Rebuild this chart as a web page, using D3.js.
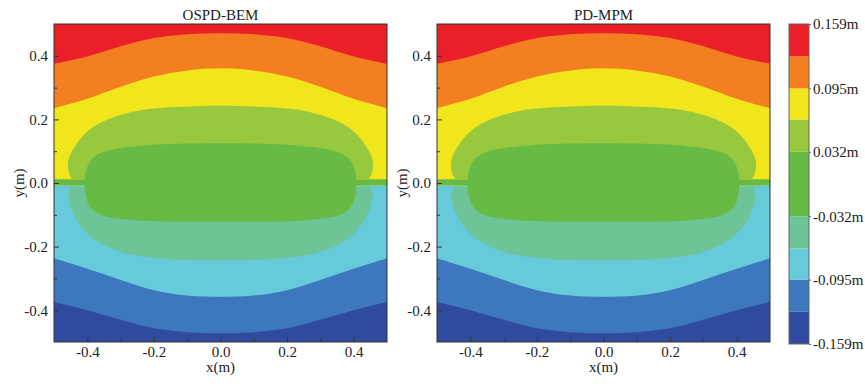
<!DOCTYPE html>
<html>
<head>
<meta charset="utf-8">
<script src="https://cdn.jsdelivr.net/npm/d3@7"></script>
<style>
  body { margin: 0; background: #fff; }
  text { font-family: "Liberation Serif", "DejaVu Serif", serif; fill: #222; }
</style>
</head>
<body>
<div id="chart"></div>
<script>
// ---- data ----
const titles = ["OSPD-BEM", "PD-MPM"];
const levels = [-0.159, -0.127, -0.095, -0.064, -0.032, 0, 0.032, 0.064, 0.095, 0.127, 0.159];
const bandColors = ["#2f4a9e", "#3d77be", "#66cadb", "#6cc497", "#67bb45",
                    "#67bb45", "#98c83e", "#f1e61b", "#f37f21", "#ea1f27"];
const xTicks = [-0.4, -0.2, 0, 0.2, 0.4];
const xMinor = [-0.3, -0.1, 0.1, 0.3];
const yTicks = [-0.4, -0.2, 0, 0.2, 0.4];
const yMinor = [-0.3, -0.1, 0.1, 0.3];
const barTicks = [-0.159, -0.095, -0.032, 0.032, 0.095, 0.159];
const barLabels = ["-0.159m", "-0.095m", "-0.032m", "0.032m", "0.095m", "0.159m"];

// isolines, [x(m), y(m)]
const iso127 = [[-0.5,0.375],[-0.4,0.398],[-0.3,0.43],[-0.2,0.456],[-0.1,0.468],[0,0.471],
                [0.1,0.468],[0.2,0.456],[0.3,0.43],[0.4,0.398],[0.5,0.375]];
const iso095 = [[-0.5,0.235],[-0.4,0.265],[-0.3,0.303],[-0.2,0.335],[-0.1,0.354],[0,0.361],
                [0.1,0.354],[0.2,0.335],[0.3,0.303],[0.4,0.265],[0.5,0.235]];
const iso064 = [[-0.446,0.012],[-0.456,0.035],[-0.457,0.07],[-0.443,0.105],[-0.41,0.152],[-0.36,0.19],
                [-0.26,0.225],[-0.15,0.238],[0,0.243],[0.15,0.238],[0.26,0.225],[0.36,0.19],
                [0.41,0.152],[0.443,0.105],[0.457,0.07],[0.456,0.035],[0.446,0.012]];
const iso032 = [[-0.408,0.005],[-0.406,0.03],[-0.392,0.067],[-0.36,0.094],[-0.26,0.115],[0,0.125],
                [0.26,0.115],[0.36,0.094],[0.392,0.067],[0.406,0.03],[0.408,0.005]];
const isoM032 = [[0.408,-0.005],[0.406,-0.032],[0.392,-0.075],[0.36,-0.1],[0.26,-0.117],[0,-0.122],
                 [-0.26,-0.117],[-0.36,-0.1],[-0.392,-0.075],[-0.406,-0.032],[-0.408,-0.005]];
const isoM064 = [[-0.448,-0.012],[-0.457,-0.043],[-0.443,-0.095],[-0.41,-0.148],[-0.36,-0.19],
                 [-0.26,-0.227],[0,-0.243],[0.26,-0.227],[0.36,-0.19],[0.41,-0.148],
                 [0.443,-0.095],[0.457,-0.043],[0.448,-0.012]];
const isoM095 = [[-0.5,-0.237],[-0.4,-0.27],[-0.3,-0.305],[-0.2,-0.337],[-0.1,-0.354],[0,-0.358],
                 [0.1,-0.354],[0.2,-0.337],[0.3,-0.305],[0.4,-0.27],[0.5,-0.237]];
const isoM127 = [[-0.5,-0.374],[-0.4,-0.4],[-0.3,-0.43],[-0.2,-0.457],[-0.1,-0.469],[0,-0.473],
                 [0.1,-0.469],[0.2,-0.457],[0.3,-0.43],[0.4,-0.4],[0.5,-0.374]];
const crackBand = [-0.008, 0.012];

// ---- layout ----
const W = 865, H = 384;
const panelLeft = [54, 437], pw = 333, plotTop = 24, ph = 318;
const serif = "Liberation Serif, DejaVu Serif, serif";
const fmt = d => d3.format(".1f")(d).replace("\u2212", "-");

const svg = d3.select("#chart").append("svg").attr("width", W).attr("height", H);

panelLeft.forEach((left, pi) => {
  const x = d3.scaleLinear().domain([-0.5, 0.5]).range([0, pw]);
  const y = d3.scaleLinear().domain([-0.5, 0.5]).range([ph, 0]);
  const g = svg.append("g").attr("transform", "translate(" + left + "," + plotTop + ")");

  g.append("clipPath").attr("id", "clip" + pi)
    .append("rect").attr("width", pw).attr("height", ph);

  const line = d3.line().x(d => x(d[0])).y(d => y(d[1])).curve(d3.curveCatmullRom.alpha(0.5));
  const closed = d3.line().x(d => x(d[0])).y(d => y(d[1])).curve(d3.curveCatmullRomClosed.alpha(0.5));
  const below = pts => line(pts) + "L" + x(0.5) + "," + y(-0.5) + "L" + x(-0.5) + "," + y(-0.5) + "Z";
  const rect = (y0, y1) => "M" + x(-0.5) + "," + y(y1) + "H" + x(0.5) + "V" + y(y0) + "H" + x(-0.5) + "Z";

  // painted back to front
  const layers = [
    [9, rect(-0.5, 0.5)],
    [8, below(iso127)],
    [7, below(iso095)],
    [2, rect(-0.5, crackBand[0])],
    [1, below(isoM095)],
    [0, below(isoM127)],
    [4, rect(crackBand[0], crackBand[1])],
    [6, line(iso064) + "Z"],
    [3, line(isoM064) + "Z"],
    [4, closed(iso032.concat(isoM032))]
  ];

  const field = g.append("g").attr("clip-path", "url(#clip" + pi + ")");
  field.selectAll("path").data(layers).join("path")
    .attr("d", d => d[1])
    .attr("fill", d => bandColors[d[0]]);

  g.append("rect").attr("width", pw).attr("height", ph)
    .attr("fill", "none").attr("stroke", "#333").attr("stroke-width", 1);

  // axes, ticks inside
  g.append("g").attr("transform", "translate(0," + ph + ")")
    .call(d3.axisBottom(x).tickValues(xTicks).tickFormat(fmt).tickSize(-5).tickPadding(4));
  g.append("g").attr("transform", "translate(0," + ph + ")")
    .call(d3.axisBottom(x).tickValues(xMinor).tickFormat("").tickSize(-3));
  g.append("g")
    .call(d3.axisLeft(y).tickValues(yTicks).tickFormat(fmt).tickSize(-5).tickPadding(6));
  g.append("g")
    .call(d3.axisLeft(y).tickValues(yMinor).tickFormat("").tickSize(-3));

  g.selectAll(".domain").remove();
  g.selectAll(".tick line").attr("stroke", "#333");
  g.selectAll(".tick text").attr("font-size", 15).attr("font-family", serif).attr("fill", "#222");

  g.append("text").attr("x", pw / 2).attr("y", -4).attr("text-anchor", "middle")
    .attr("font-size", 15).text(titles[pi]);
  g.append("text").attr("x", pw / 2).attr("y", ph + 30).attr("text-anchor", "middle")
    .attr("font-size", 15).text("x(m)");
  g.append("text").attr("transform", "translate(" + (-30) + "," + (ph / 2) + ") rotate(-90)")
    .attr("text-anchor", "middle").attr("font-size", 15).text("y(m)");
});

// ---- colour bar ----
const cb = svg.append("g").attr("transform", "translate(789," + plotTop + ")");
const cbW = 20, cbH = 320;
const cy = d3.scaleLinear().domain([levels[0], levels[levels.length - 1]]).range([cbH, 0]);
cb.selectAll("rect.band").data(bandColors).join("rect")
  .attr("class", "band")
  .attr("x", 0).attr("width", cbW)
  .attr("y", (d, i) => cy(levels[i + 1]))
  .attr("height", (d, i) => cy(levels[i]) - cy(levels[i + 1]))
  .attr("fill", d => d);
cb.append("rect").attr("width", cbW).attr("height", cbH)
  .attr("fill", "none").attr("stroke", "#666").attr("stroke-width", 1);
cb.append("g").attr("transform", "translate(" + cbW + ",0)")
  .call(d3.axisRight(cy).tickValues(barTicks).tickFormat((d, i) => barLabels[i]).tickSize(2).tickPadding(2))
  .call(s => s.select(".domain").remove())
  .call(s => s.selectAll(".tick line").attr("stroke", "#666"))
  .call(s => s.selectAll(".tick text").attr("font-size", 15).attr("font-family", serif).attr("fill", "#222"));
</script>
</body>
</html>
